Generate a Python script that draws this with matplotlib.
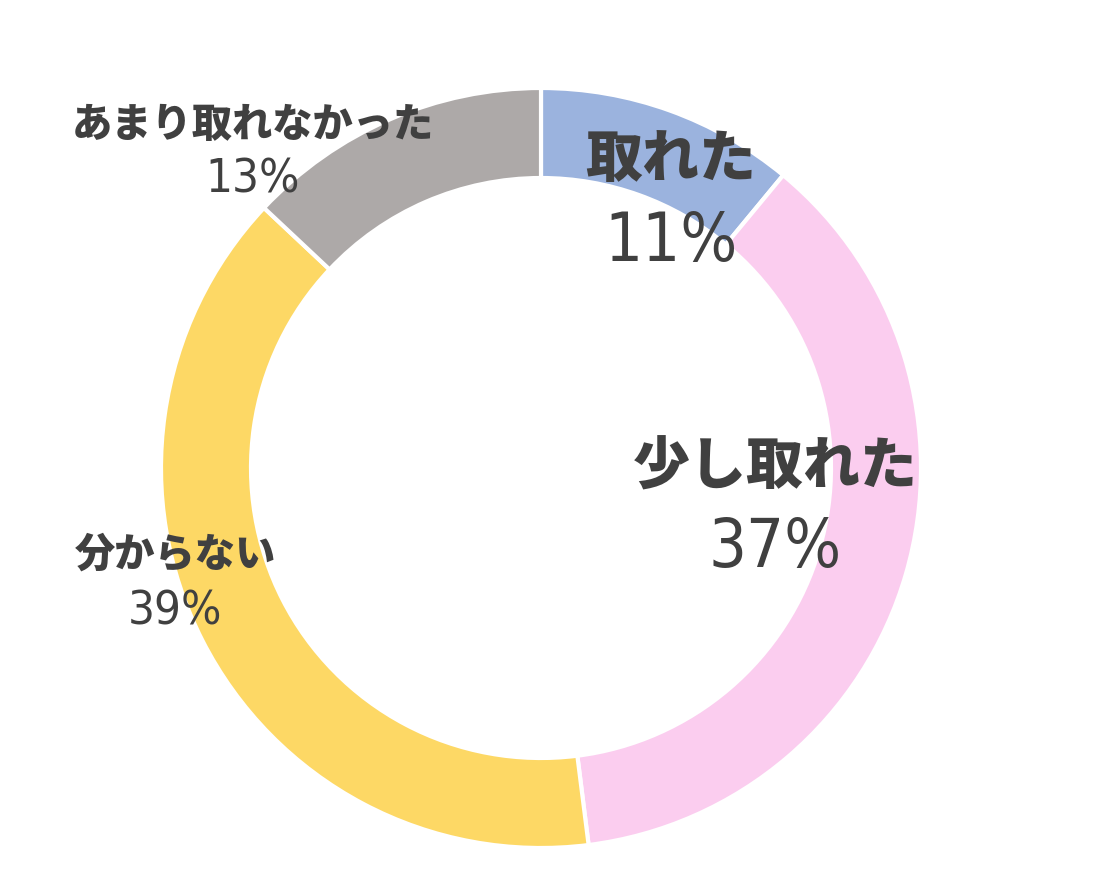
import matplotlib
matplotlib.use("Agg")
import matplotlib.pyplot as plt

# answer shares, clockwise from 12 o'clock
categories = ["取れた", "少し取れた", "分からない", "あまり取れなかった"]
shares = [11, 37, 39, 13]
colors = ["#9bb3de", "#fbcdef", "#fdd865", "#ada9a8"]

W, H = 1099, 892
TEXT = "#404040"
JP = ["Noto Sans CJK JP", "DejaVu Sans"]
NUM = ["DejaVu Sans"]

fig = plt.figure(figsize=(W / 100, H / 100), dpi=100)
ax = fig.add_axes([0, 0, 1, 1])

cx, cy, r = 541, H - 468, 380
ax.pie(
    shares,
    colors=colors,
    startangle=90,
    counterclock=False,
    center=(cx, cy),
    radius=r,
    wedgeprops=dict(width=90, edgecolor="white", linewidth=3),
    frame=True,
)
ax.set_xlim(0, W)
ax.set_ylim(0, H)
ax.set_aspect("equal")
ax.axis("off")

# label layout: (x, y of name, y of percent, name size, percent size)
layout = [
    (671, 160, 242, 41, 48),
    (775, 468, 548, 41, 48),
    (175, 555, 612, 29, 34),
    (253, 125, 180, 29, 34),
]
for name, val, (x, y1, y2, s1, s2) in zip(categories, shares, layout):
    ax.text(x, H - y1, name, ha="center", va="center", fontsize=s1,
            fontweight="heavy", color=TEXT, family=JP)
    ax.text(x, H - y2, f"{val}%", ha="center", va="center", fontsize=s2,
            color=TEXT, family=NUM, fontstretch="condensed")

fig.savefig("out.png", dpi=100, facecolor="white")
